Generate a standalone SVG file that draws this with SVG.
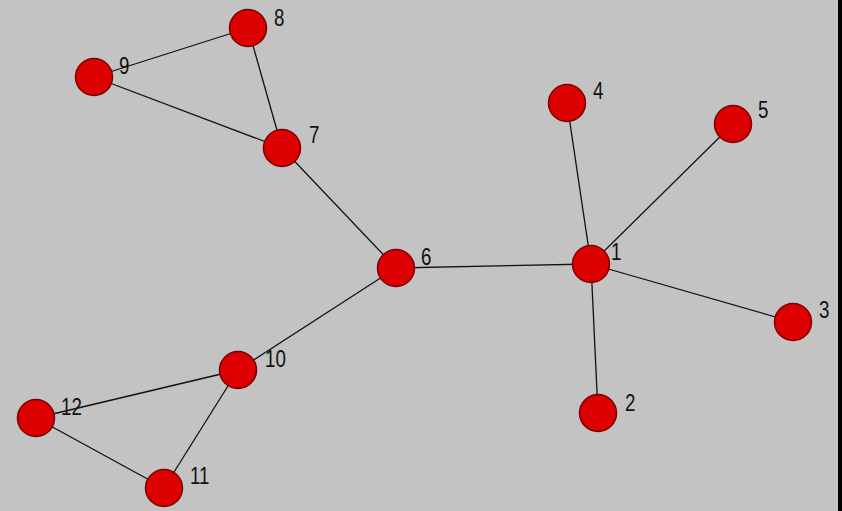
<svg xmlns="http://www.w3.org/2000/svg" width="842" height="511" viewBox="0 0 842 511">
<style>
.e{stroke:#111;stroke-width:1.3;fill:none}
.n circle{fill:#dd0000;stroke:#7a0000;stroke-width:1.5}
.n text{font-family:"Liberation Sans",Arial,sans-serif;font-size:24px;fill:#111}
</style>
<rect x="0" y="0" width="842" height="511" fill="#c3c3c3"/>
<rect x="838" y="0" width="4" height="511" fill="#000"/>
<g id="connectors">
<line class="e" x1="591" y1="264" x2="567" y2="103"/>
<line class="e" x1="591" y1="264" x2="733" y2="124"/>
<line class="e" x1="591" y1="264" x2="793" y2="322"/>
<line class="e" x1="591" y1="264" x2="598" y2="413"/>
<line class="e" x1="591" y1="264" x2="396" y2="268"/>
<line class="e" x1="396" y1="268" x2="282" y2="148"/>
<line class="e" x1="396" y1="268" x2="238" y2="370"/>
<line class="e" x1="282" y1="148" x2="248" y2="28"/>
<line class="e" x1="282" y1="148" x2="94" y2="77"/>
<line class="e" x1="94" y1="77" x2="248" y2="28"/>
<line class="e" x1="238" y1="370" x2="36" y2="418"/>
<line class="e" x1="238" y1="370" x2="164" y2="488"/>
<line class="e" x1="164" y1="488" x2="36" y2="418"/>
</g>
<g id="n1" class="n"><circle cx="591" cy="264" r="18.5"/><text transform="translate(611 260) scale(0.78 1)">1</text></g>
<g id="n2" class="n"><circle cx="598" cy="413" r="18.5"/><text transform="translate(625 411) scale(0.78 1)">2</text></g>
<g id="n3" class="n"><circle cx="793" cy="322" r="18.5"/><text transform="translate(819 318) scale(0.78 1)">3</text></g>
<g id="n4" class="n"><circle cx="567" cy="103" r="18.5"/><text transform="translate(593 99) scale(0.78 1)">4</text></g>
<g id="n5" class="n"><circle cx="733" cy="124" r="18.5"/><text transform="translate(758 118) scale(0.78 1)">5</text></g>
<g id="n6" class="n"><circle cx="396" cy="268" r="18.5"/><text transform="translate(421 265) scale(0.78 1)">6</text></g>
<g id="n7" class="n"><circle cx="282" cy="148" r="18.5"/><text transform="translate(309 143) scale(0.78 1)">7</text></g>
<g id="n8" class="n"><circle cx="248" cy="28" r="18.5"/><text transform="translate(274 26) scale(0.78 1)">8</text></g>
<g id="n9" class="n"><circle cx="94" cy="77" r="18.5"/><text transform="translate(119 74) scale(0.78 1)">9</text></g>
<g id="n10" class="n"><circle cx="238" cy="370" r="18.5"/><text transform="translate(265 367) scale(0.78 1)">10</text></g>
<g id="n11" class="n"><circle cx="164" cy="488" r="18.5"/><text transform="translate(190 484) scale(0.78 1)">11</text></g>
<g id="n12" class="n"><circle cx="36" cy="418" r="18.5"/><text transform="translate(61 415) scale(0.78 1)">12</text></g>
</svg>
